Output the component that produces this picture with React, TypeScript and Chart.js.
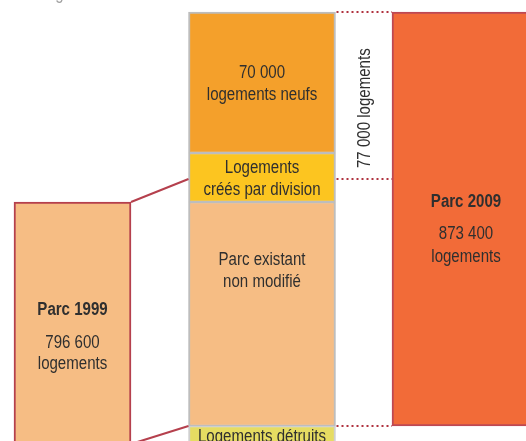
import React, { useEffect, useRef } from "react";
import { Chart, registerables } from "chart.js";

Chart.register(...registerables);

// ---- Data -------------------------------------------------------------
const columns = ["Parc 1999", "Évolution 1999-2009", "Parc 2009"];

// Segments of the middle column, from bottom to top.
// The original figure is a schematic: heights are read off the picture (not to scale).
const segmentNames = [
  "Logements détruits",
  "Parc existant non modifié",
  "Logements créés par division",
  "Logements neufs",
];
const segmentHeights = [17, 112, 24.5, 70.5];
const segmentLabels = [
  ["Logements détruits"],
  ["Parc existant", "non modifié"],
  ["Logements", "créés par division"],
  ["70 000", "logements neufs"],
];
const segmentColors = ["#E6DC62", "#F6BD84", "#FCC520", "#F4A02B"];

const parc1999Title = "Parc 1999";
const parc1999Lines = ["796 600", "logements"];
const parc2009Title = "Parc 2009";
const parc2009Lines = ["873 400", "logements"];

const netChangeLabel = "77 000 logements";
const netChangeLevel = 140.5; // schematic level of the 77 000 bracket
const parc1999LinkLow = 8; // schematic level where the lower connector meets Parc 1999

const titleText = "Les logements entre 1999 et 2009 : évolution en dix ans";

// ---- Styles -----------------------------------------------------------
const TEXT = "#2f2f2f";
const DARK_RED = "#B5404D";
const FONT = "'Liberation Sans', Arial, sans-serif";
const SX = 0.86;

function drawText(
  ctx: CanvasRenderingContext2D,
  s: string,
  x: number,
  y: number,
  opts: { bold?: boolean; color?: string; align?: CanvasTextAlign; rotate?: number; baseline?: CanvasTextBaseline } = {}
) {
  ctx.save();
  ctx.translate(x, y);
  if (opts.rotate) ctx.rotate(opts.rotate);
  ctx.scale(SX, 1);
  ctx.font = `${opts.bold ? "bold " : ""}17.5px ${FONT}`;
  ctx.fillStyle = opts.color || TEXT;
  ctx.textAlign = opts.align || "center";
  ctx.textBaseline = opts.baseline || "middle";
  ctx.fillText(s, 0, 0);
  ctx.restore();
}

const overlayPlugin = {
  id: "overlay",
  afterDatasetsDraw(chart: any) {
    const ctx: CanvasRenderingContext2D = chart.ctx;
    const y = chart.scales.y;
    const bounds = [0];
    segmentHeights.forEach((h) => bounds.push(bounds[bounds.length - 1] + h));

    const left = chart.getDatasetMeta(1).data[0];
    const mid = chart.getDatasetMeta(2).data[1];
    const right = chart.getDatasetMeta(2 + segmentHeights.length).data[2];
    const lRight = left.x + left.width / 2;
    const mLeft = mid.x - mid.width / 2;
    const mRight = mid.x + mid.width / 2;
    const rLeft = right.x - right.width / 2;

    // connectors from Parc 1999 to the middle column
    ctx.save();
    ctx.strokeStyle = DARK_RED;
    ctx.lineWidth = 2;
    ctx.beginPath();
    ctx.moveTo(lRight, left.y);
    ctx.lineTo(mLeft, y.getPixelForValue(netChangeLevel));
    ctx.moveTo(mLeft, y.getPixelForValue(bounds[1]));
    ctx.lineTo(lRight, y.getPixelForValue(parc1999LinkLow));
    ctx.stroke();

    // dotted guides between middle column and Parc 2009
    ctx.setLineDash([2, 3]);
    ctx.strokeStyle = "#B0323F";
    [bounds[bounds.length - 1], netChangeLevel, bounds[1]].forEach((v) => {
      const py = y.getPixelForValue(v);
      ctx.beginPath();
      ctx.moveTo(mRight + 1, py);
      ctx.lineTo(rLeft, py);
      ctx.stroke();
    });
    ctx.restore();

    // rotated 77 000 label
    drawText(ctx, netChangeLabel, (mRight + rLeft) / 2 + 1, y.getPixelForValue(netChangeLevel) - 11, {
      align: "left",
      rotate: -Math.PI / 2,
    });

    // segment labels
    const dy = [-6, -43, 1.5, 1.5];
    const lh = 22;
    segmentLabels.forEach((lines, i) => {
      const c = (y.getPixelForValue(bounds[i]) + y.getPixelForValue(bounds[i + 1])) / 2;
      const start = c - ((lines.length - 1) * lh) / 2 + dy[i];
      lines.forEach((s, k) => drawText(ctx, s, mid.x, start + k * lh));
    });

    // Parc 1999 label
    const c1 = (left.y + left.base) / 2;
    drawText(ctx, parc1999Title, left.x, c1 - 21, { bold: true });
    parc1999Lines.forEach((s, k) => drawText(ctx, s, left.x, c1 + 12 + k * 21));

    // Parc 2009 label
    const c2 = (right.y + right.base) / 2;
    const x2 = rLeft + 74;
    drawText(ctx, parc2009Title, x2, c2 - 17, { bold: true });
    parc2009Lines.forEach((s, k) => drawText(ctx, s, x2, c2 + 15 + k * 23));

    // cut-off heading at the very top
    drawText(ctx, titleText, 125, -1.5, { align: "left", baseline: "alphabetic", color: "#a0a0a0" });
  },
};

export default function App() {
  const ref = useRef<HTMLCanvasElement>(null);

  useEffect(() => {
    if (!ref.current) return;
    const bounds = [0];
    segmentHeights.forEach((h) => bounds.push(bounds[bounds.length - 1] + h));
    const at = (col: number, v: any) => columns.map((_, i) => (i === col ? v : null));

    const datasets: any[] = [
      {
        label: "",
        data: at(0, 1),
        backgroundColor: "rgba(0,0,0,0)",
        borderWidth: 0,
        barThickness: 117,
        stack: "spacer",
      },
      {
        label: parc1999Title,
        data: at(0, [bounds[0], bounds[2]]),
        backgroundColor: "#F6BD84",
        borderColor: DARK_RED,
        borderWidth: 2,
        barThickness: 117,
        stack: "p1999",
      },
      ...segmentHeights.map((_, i) => ({
        label: segmentNames[i],
        data: at(1, [bounds[i], bounds[i + 1]]),
        backgroundColor: segmentColors[i],
        borderColor: i === 0 ? "#CFCFCF" : "#BDBDBD",
        borderWidth: { top: i === segmentHeights.length - 1 ? 2 : 1.5, bottom: 1.5, left: 2, right: 2 },
        barThickness: 147,
        stack: "mid",
      })),
      {
        label: parc2009Title,
        data: at(2, [bounds[1], bounds[bounds.length - 1]]),
        backgroundColor: "#F26B38",
        borderColor: "#BE4853",
        borderWidth: 2,
        barThickness: 236,
        stack: "p2009",
      },
    ];

    const chart = new Chart(ref.current, {
      type: "bar",
      data: { labels: columns, datasets },
      options: {
        animation: false,
        responsive: false,
        devicePixelRatio: 1,
        events: [],
        layout: { padding: 0 },
        plugins: {
          legend: { display: false },
          tooltip: { enabled: false },
          title: { display: false },
        },
        datasets: { bar: { skipNull: true, borderSkipped: false, grouped: true } as any },
        scales: {
          x: { type: "category", display: false, offset: true, grid: { display: false } },
          y: { type: "linear", display: false, stacked: false, min: 0, max: 230 },
        },
      } as any,
      plugins: [overlayPlugin],
    });
    return () => chart.destroy();
  }, []);

  return (
    <div
      style={{
        position: "fixed",
        left: 0,
        top: 0,
        width: 526,
        height: 441,
        overflow: "hidden",
        background: "#ffffff",
      }}
    >
      <canvas
        ref={ref}
        width={744}
        height={460}
        style={{ position: "absolute", left: -110, top: 0, width: 744, height: 460 }}
      />
    </div>
  );
}
